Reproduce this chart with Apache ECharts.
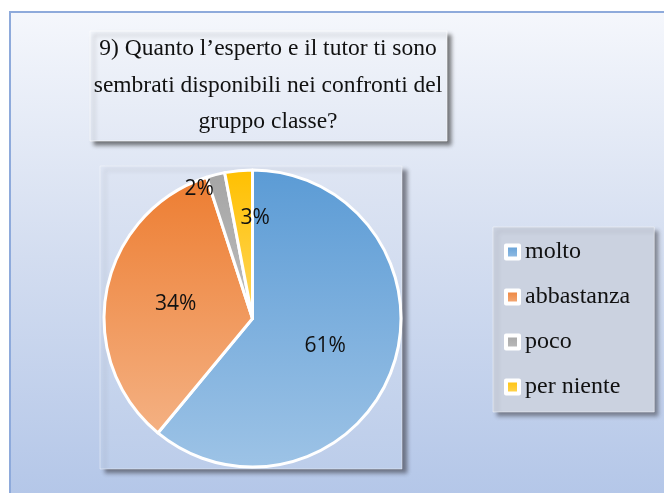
<!DOCTYPE html>
<html>
<head>
<meta charset="utf-8">
<script src="https://cdn.jsdelivr.net/npm/echarts@6/dist/echarts.min.js"></script>
<style>
  html, body { margin: 0; padding: 0; background: #fff; }
  #chart { width: 664px; height: 493px; }
</style>
</head>
<body>
<div id="chart"></div>
<script>
// Survey answers, question 9
const categories = ['molto', 'abbastanza', 'poco', 'per niente'];
const values = [61, 34, 2, 3];
const titleLines = [
  '9) Quanto l\u2019esperto e il tutor ti sono',
  'sembrati disponibili nei confronti del',
  'gruppo classe?'
];

// top/bottom colours of each slice's vertical gradient
const sliceTop = ['#5b9bd5', '#ed7d31', '#a5a5a5', '#ffc000'];
const sliceBottom = ['#9dc3e6', '#f4b183', '#bdbdbd', '#ffd75e'];

const SERIF = '"Liberation Serif", "Times New Roman", serif';

function vGrad(top, bottom) {
  return new echarts.graphic.LinearGradient(0, 0, 0, 1, [
    { offset: 0, color: top },
    { offset: 1, color: bottom }
  ]);
}

// small nudges for the labels of the thin slices near the top
const labelNudge = { 0: [0, 1], 1: [-1, 0], 2: [-34, -55], 3: [10, -24] };

const chart = echarts.init(document.getElementById('chart'), null, { renderer: 'canvas' });

chart.setOption({
  backgroundColor: '#ffffff',
  animation: false,
  graphic: [
    {
      type: 'rect', z: -20,
      shape: { x: 10, y: 12, width: 660, height: 490 },
      style: {
        fill: new echarts.graphic.LinearGradient(0, 0, 0, 1, [
          { offset: 0, color: '#f5f7fc' },
          { offset: 0.5, color: '#d3ddf0' },
          { offset: 1, color: '#b3c6e8' }
        ]),
        stroke: '#8eaadb', lineWidth: 2
      }
    },
    {
      // title frame
      type: 'rect', z: -10,
      shape: { x: 90, y: 31, width: 357, height: 110 },
      style: {
        fill: vGrad('#f1f4fa', '#e3e9f5'),
        stroke: 'rgba(255,255,255,0.6)', lineWidth: 1,
        shadowBlur: 4, shadowOffsetX: 4, shadowOffsetY: 4,
        shadowColor: 'rgba(40,40,40,0.6)'
      }
    },
    {
      // plot area frame
      type: 'rect', z: -10,
      shape: { x: 100, y: 166, width: 302, height: 303 },
      style: {
        fill: vGrad('#dee5f3', '#bccdea'),
        stroke: 'rgba(255,255,255,0.4)', lineWidth: 1,
        shadowBlur: 4, shadowOffsetX: 5, shadowOffsetY: 4,
        shadowColor: 'rgba(60,60,70,0.6)'
      }
    }
  ],
  title: {
    text: titleLines.join('\n'),
    left: 268,
    top: 31,
    textAlign: 'center',
    padding: 0,
    textStyle: {
      fontFamily: SERIF,
      fontWeight: 'normal',
      fontSize: 23.5,
      lineHeight: 36.5,
      color: '#111'
    }
  },
  legend: {
    orient: 'vertical',
    left: 493,
    top: 227,
    padding: [13, 24, 13, 11],
    itemGap: 21,
    itemWidth: 13,
    itemHeight: 13,
    icon: 'rect',
    backgroundColor: '#cbd2e0',
    borderColor: 'rgba(255,255,255,0.45)',
    borderWidth: 1,
    shadowBlur: 4,
    shadowOffsetX: 4,
    shadowOffsetY: 4,
    shadowColor: 'rgba(60,60,70,0.55)',
    itemStyle: { borderColor: '#ffffff', borderWidth: 4 },
    textStyle: {
      fontFamily: SERIF,
      fontSize: 24,
      color: '#111',
      padding: [0, 0, 0, 1]
    },
    data: categories
  },
  series: [{
    type: 'pie',
    center: [252.5, 318.5],
    radius: 148.5,
    startAngle: 90,
    clockwise: true,
    percentPrecision: 0,
    itemStyle: { borderColor: '#ffffff', borderWidth: 3 },
    label: {
      show: true,
      position: 'inside',
      formatter: '{d}%',
      fontFamily: '"Open Sans", sans-serif',
      fontSize: 21,
      color: '#111'
    },
    labelLine: { show: false },
    labelLayout: function (p) {
      const n = labelNudge[p.dataIndex] || [0, 0];
      return { dx: n[0], dy: n[1] };
    },
    emphasis: { disabled: true },
    data: categories.map(function (name, i) {
      return {
        name: name,
        value: values[i],
        itemStyle: { color: vGrad(sliceTop[i], sliceBottom[i]) }
      };
    })
  }]
});
</script>
</body>
</html>
